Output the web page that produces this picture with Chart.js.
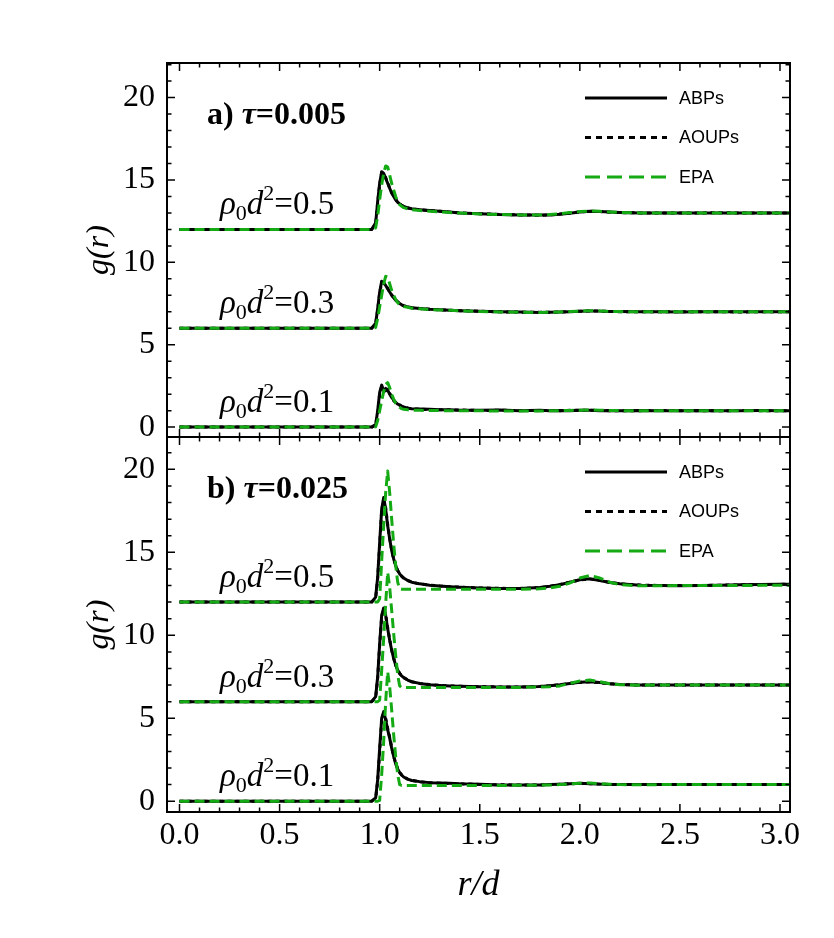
<!DOCTYPE html>
<html>
<head>
<meta charset="utf-8">
<script src="https://cdn.jsdelivr.net/npm/chart.js@4.4.0/dist/chart.umd.min.js"></script>
<style>
  html, body { margin: 0; padding: 0; background: #fff; }
  #wrap { position: relative; width: 834px; height: 938px; }
  .pane { position: absolute; left: 0; width: 834px; }
</style>
</head>
<body>
<div id="wrap">
  <div class="pane" style="top:0;height:440px"><canvas id="topChart"></canvas></div>
  <div class="pane" style="top:434px;height:504px"><canvas id="bottomChart"></canvas></div>
</div>
<script>
// r/d grid shared by all curves
const r = [0, 0.96, 0.98, 0.99, 1.0, 1.01, 1.02, 1.03, 1.04, 1.05,
  1.06, 1.07, 1.08, 1.09, 1.1, 1.11, 1.12, 1.14, 1.16, 1.2,
  1.25, 1.3, 1.35, 1.4, 1.5, 1.6, 1.7, 1.8, 1.85, 1.9,
  1.95, 2.0, 2.05, 2.1, 2.15, 2.2, 2.3, 2.4, 2.5, 2.6,
  2.7, 2.8, 2.9, 3.0, 3.05];

const xTicks = [0, 0.5, 1.0, 1.5, 2.0, 2.5, 3.0];
const yTicks = [0, 5, 10, 15, 20];
const rhoLabels = ["0.5", "0.3", "0.1"];
const rhoOffsets = [12, 6, 0];
const seriesNames = ["ABPs", "AOUPs", "EPA"];

// panel a) tau = 0.005  (curves shifted by 12, 6, 0)
const abpA5 = [12, 12, 12.4, 13.7, 14.8, 15.5, 15.4, 15.1, 14.8, 14.5,
  14.2, 14.0, 13.8, 13.65, 13.55, 13.45, 13.4, 13.3, 13.25, 13.2,
  13.15, 13.1, 13.05, 13.0, 12.95, 12.9, 12.88, 12.87, 12.88, 12.92,
  12.98, 13.05, 13.1, 13.08, 13.05, 13.03, 13.0, 12.99, 12.99, 13.0,
  13.0, 13.0, 13.0, 13.0, 13.0];
const aoupA5 = [12, 12, 12.35, 13.6, 14.7, 15.45, 15.4, 15.15, 14.85, 14.5,
  14.25, 14.0, 13.82, 13.66, 13.55, 13.46, 13.4, 13.31, 13.25, 13.19,
  13.14, 13.1, 13.04, 13.0, 12.95, 12.91, 12.88, 12.86, 12.88, 12.93,
  12.99, 13.06, 13.1, 13.08, 13.04, 13.02, 13.0, 13.0, 12.99, 13.0,
  13.01, 13.0, 13.0, 12.99, 13.0];
const epaA5 = [12, 12, 12.1, 12.8, 13.8, 14.7, 15.4, 15.85, 15.8, 15.3,
  14.8, 14.4, 14.0, 13.7, 13.5, 13.4, 13.32, 13.25, 13.2, 13.15,
  13.1, 13.06, 13.02, 12.99, 12.94, 12.9, 12.88, 12.88, 12.9, 12.95,
  13.02, 13.08, 13.12, 13.1, 13.06, 13.03, 13.0, 13.0, 13.0, 13.0,
  13.0, 13.0, 13.0, 13.0, 13.0];
const abpA3 = [6, 6, 6.3, 7.2, 8.2, 8.85, 8.75, 8.6, 8.4, 8.2,
  8.0, 7.85, 7.7, 7.6, 7.5, 7.42, 7.36, 7.3, 7.25, 7.2,
  7.15, 7.12, 7.1, 7.07, 7.03, 7.0, 6.98, 6.96, 6.97, 6.98,
  7.0, 7.03, 7.05, 7.04, 7.02, 7.01, 7.0, 7.0, 6.99, 7.0,
  7.0, 7.0, 7.0, 7.0, 7.0];
const aoupA3 = [6, 6, 6.25, 7.1, 8.1, 8.8, 8.75, 8.62, 8.42, 8.2,
  8.02, 7.85, 7.72, 7.6, 7.5, 7.43, 7.37, 7.3, 7.24, 7.2,
  7.16, 7.12, 7.09, 7.07, 7.03, 7.0, 6.98, 6.97, 6.97, 6.99,
  7.01, 7.03, 7.05, 7.04, 7.02, 7.0, 7.0, 7.0, 7.0, 7.0,
  7.0, 6.99, 7.0, 7.0, 7.0];
const epaA3 = [6, 6, 6.05, 6.6, 7.3, 8.0, 8.7, 9.15, 9.1, 8.7,
  8.3, 8.0, 7.75, 7.55, 7.45, 7.38, 7.32, 7.27, 7.22, 7.18,
  7.14, 7.11, 7.09, 7.06, 7.02, 6.99, 6.97, 6.96, 6.97, 6.99,
  7.01, 7.04, 7.06, 7.05, 7.02, 7.01, 7.0, 7.0, 7.0, 7.0,
  7.0, 7.0, 7.0, 7.0, 7.0];
const abpA1 = [0, 0, 0.15, 1.0, 2.1, 2.55, 2.2, 2.35, 2.25, 2.0,
  1.8, 1.65, 1.5, 1.4, 1.35, 1.25, 1.22, 1.15, 1.12, 1.1,
  1.08, 1.05, 1.06, 1.03, 1.02, 1.04, 1.0, 1.02, 0.99, 1.01,
  1.0, 1.03, 1.02, 1.0, 1.01, 0.99, 1.01, 1.0, 0.99, 1.01,
  1.0, 1.0, 1.01, 1.0, 1.0];
const aoupA1 = [0, 0, 0.12, 0.9, 2.0, 2.45, 2.3, 2.2, 2.3, 2.05,
  1.85, 1.6, 1.5, 1.42, 1.33, 1.27, 1.2, 1.16, 1.11, 1.09,
  1.07, 1.06, 1.04, 1.04, 1.01, 1.02, 1.01, 1.0, 1.01, 1.0,
  1.02, 1.02, 1.03, 1.01, 1.0, 1.0, 1.0, 1.01, 1.0, 1.0,
  0.99, 1.01, 1.0, 1.0, 1.0];
const epaA1 = [0, 0, 0.02, 0.4, 1.0, 1.6, 2.15, 2.6, 2.7, 2.4,
  2.0, 1.7, 1.45, 1.3, 1.2, 1.12, 1.08, 1.05, 1.03, 1.02,
  1.01, 1.0, 1.0, 0.99, 0.99, 0.98, 0.98, 0.98, 0.99, 1.0,
  1.01, 1.03, 1.04, 1.03, 1.01, 1.0, 1.0, 1.0, 1.0, 1.0,
  1.0, 1.0, 1.0, 1.0, 1.0];

// panel b) tau = 0.025
const abpB5 = [12, 12, 12.3, 13.5, 15.6, 17.6, 18.3, 17.6, 16.6, 15.8,
  15.1, 14.6, 14.2, 13.9, 13.7, 13.55, 13.45, 13.3, 13.2, 13.1,
  13.02, 12.97, 12.93, 12.9, 12.85, 12.82, 12.82, 12.88, 12.95, 13.05,
  13.2, 13.35, 13.4, 13.3, 13.18, 13.1, 13.02, 13.0, 12.99, 13.0,
  13.02, 13.04, 13.06, 13.08, 13.08];
const aoupB5 = [12, 12, 12.25, 13.4, 15.4, 17.5, 18.2, 17.7, 16.7, 15.85,
  15.15, 14.6, 14.25, 13.9, 13.72, 13.56, 13.45, 13.31, 13.2, 13.1,
  13.03, 12.97, 12.93, 12.9, 12.85, 12.83, 12.82, 12.87, 12.95, 13.06,
  13.2, 13.34, 13.4, 13.31, 13.18, 13.1, 13.03, 13.0, 13.0, 13.0,
  13.02, 13.04, 13.05, 13.07, 13.08];
const epaB5 = [12, 12, 12, 12, 12.2, 14.5, 16.6, 18.6, 19.9, 18.6,
  17.0, 15.5, 14.2, 13.2, 12.8, 12.78, 12.78, 12.78, 12.78, 12.78,
  12.78, 12.78, 12.78, 12.78, 12.78, 12.78, 12.78, 12.8, 12.85, 12.95,
  13.15, 13.45, 13.6, 13.45, 13.2, 13.05, 12.98, 12.98, 13.0, 13.0,
  13.0, 13.0, 13.01, 13.02, 13.02];
const abpB3 = [6, 6, 6.3, 7.5, 9.5, 11.2, 11.65, 11.2, 10.4, 9.7,
  9.1, 8.6, 8.2, 7.9, 7.7, 7.55, 7.45, 7.3, 7.2, 7.1,
  7.02, 6.98, 6.95, 6.93, 6.9, 6.88, 6.88, 6.92, 6.96, 7.02,
  7.1, 7.17, 7.2, 7.15, 7.08, 7.03, 7.0, 7.0, 7.0, 7.0,
  7.0, 7.0, 7.01, 7.0, 7.0];
const aoupB3 = [6, 6, 6.25, 7.4, 9.4, 11.1, 11.6, 11.25, 10.45, 9.75,
  9.1, 8.62, 8.2, 7.92, 7.7, 7.56, 7.45, 7.31, 7.2, 7.1,
  7.03, 6.98, 6.95, 6.93, 6.9, 6.89, 6.88, 6.91, 6.96, 7.02,
  7.1, 7.16, 7.2, 7.14, 7.08, 7.03, 7.0, 7.0, 7.0, 7.0,
  7.0, 7.0, 7.0, 7.0, 7.0];
const epaB3 = [6, 6, 6, 6, 6.1, 7.9, 9.8, 11.9, 13.8, 12.9,
  11.5, 10.1, 8.8, 7.6, 6.95, 6.85, 6.85, 6.85, 6.85, 6.85,
  6.85, 6.85, 6.85, 6.85, 6.85, 6.85, 6.86, 6.88, 6.9, 6.95,
  7.1, 7.25, 7.3, 7.2, 7.08, 7.02, 6.99, 7.0, 7.0, 7.0,
  7.0, 7.0, 7.0, 7.0, 7.0];
const abpB1 = [0, 0, 0.2, 1.3, 3.2, 5.0, 5.4, 4.9, 4.3, 3.8,
  3.2, 2.7, 2.25, 1.95, 1.72, 1.57, 1.46, 1.33, 1.25, 1.18,
  1.12, 1.1, 1.08, 1.05, 1.02, 0.98, 0.97, 0.98, 1.0, 1.02,
  1.05, 1.08, 1.06, 1.03, 1.01, 1.0, 1.0, 1.01, 1.0, 1.0,
  1.0, 1.01, 1.0, 1.0, 1.0];
const aoupB1 = [0, 0, 0.18, 1.2, 3.0, 4.9, 5.3, 5.0, 4.4, 3.85,
  3.25, 2.7, 2.3, 1.96, 1.74, 1.58, 1.47, 1.33, 1.26, 1.17,
  1.12, 1.09, 1.07, 1.05, 1.01, 0.99, 0.98, 0.98, 1.0, 1.02,
  1.05, 1.07, 1.06, 1.03, 1.01, 1.0, 1.01, 1.0, 1.0, 1.0,
  1.0, 1.0, 1.0, 1.01, 1.0];
const epaB1 = [0, 0, 0, 0, 0.05, 1.6, 3.6, 6.0, 7.8, 6.9,
  5.5, 4.0, 2.7, 1.6, 1.0, 0.95, 0.95, 0.95, 0.95, 0.95,
  0.95, 0.95, 0.95, 0.95, 0.95, 0.95, 0.96, 0.97, 0.98, 1.0,
  1.04, 1.08, 1.1, 1.06, 1.02, 1.0, 0.99, 1.0, 1.0, 1.0,
  1.0, 1.0, 1.0, 1.0, 1.0];

const GREEN = "rgb(20,170,20)";
const SERIF = '"Liberation Serif", "Times New Roman", serif';
const SANS = '"Liberation Sans", Arial, sans-serif';

// line look per series: [color, dash on curve, dash in legend, draw order]
const looks = {
  ABPs: ["#000", [], [], 2],
  AOUPs: ["#000", [4, 4], [6, 5], 1],
  EPA: [GREEN, [10, 5], [15, 7], 0]
};

function makeSets(groups) {
  const out = [];
  groups.forEach(g => {
    seriesNames.forEach((name, k) => {
      const [color, dash, , order] = looks[name];
      out.push({
        label: name,
        data: r.map((x, i) => ({ x: x, y: g[k][i] })),
        borderColor: color,
        borderWidth: 3,
        borderDash: dash,
        borderJoinStyle: "round",
        pointRadius: 0,
        tension: 0,
        fill: false,
        order: order
      });
    });
  });
  return out;
}

function runs(ctx, x, y, parts) {
  parts.forEach(([txt, font, dy]) => {
    ctx.font = font;
    ctx.fillText(txt, x, y + (dy || 0));
    x += ctx.measureText(txt).width;
  });
}

// frame, inward ticks, panel label, density labels, legend
const deco = {
  id: "deco",
  afterDraw(chart, args, opts) {
    const { ctx, chartArea: a, scales: { x, y } } = chart;
    ctx.save();
    ctx.strokeStyle = "#000";
    ctx.lineWidth = 1.5;
    ctx.beginPath();
    for (let k = 0; k <= 30; k++) {
      const px = x.getPixelForValue(k / 10);
      const len = k % 5 === 0 ? 8 : 4.5;
      ctx.moveTo(px, a.top); ctx.lineTo(px, a.top + len);
      ctx.moveTo(px, a.bottom); ctx.lineTo(px, a.bottom - len);
    }
    for (let k = 0; k <= 22; k++) {
      const py = y.getPixelForValue(k);
      if (py < a.top) continue;
      const len = k % 5 === 0 ? 8 : 4.5;
      ctx.moveTo(a.left, py); ctx.lineTo(a.left + len, py);
      ctx.moveTo(a.right, py); ctx.lineTo(a.right - len, py);
    }
    ctx.stroke();
    ctx.lineWidth = 2;
    ctx.strokeRect(a.left, a.top, a.right - a.left, a.bottom - a.top);

    ctx.fillStyle = "#000";
    ctx.textBaseline = "alphabetic";
    ctx.textAlign = "left";
    runs(ctx, 207, a.top + 61, [
      [opts.tag + " ", "bold 32px " + SERIF],
      ["\u03c4", "italic bold 32px " + SERIF, 0],
      ["=" + opts.tau, "bold 32px " + SERIF]
    ]);

    rhoLabels.forEach((lab, i) => {
      const base = y.getPixelForValue(rhoOffsets[i]) - 15;
      runs(ctx, 220, base, [
        ["\u03c1", "italic 33px " + SERIF],
        ["0", "22px " + SERIF, 6],
        ["d", "italic 33px " + SERIF],
        ["2", "22px " + SERIF, -14],
        ["=" + lab, "33px " + SERIF]
      ]);
    });

    ctx.lineWidth = 3;
    ctx.font = "18px " + SANS;
    ctx.textBaseline = "middle";
    seriesNames.forEach((name, i) => {
      const [color, , dash] = looks[name];
      const ly = a.top + 35 + i * 39.5;
      ctx.strokeStyle = color;
      ctx.setLineDash(dash);
      ctx.beginPath();
      ctx.moveTo(585, ly); ctx.lineTo(667, ly);
      ctx.stroke();
      ctx.fillText(name, 679, ly + 1);
    });
    ctx.restore();
  }
};

function makeChart(id, groups, panel) {
  new Chart(document.getElementById(id), {
    type: "line",
    data: { datasets: makeSets(groups) },
    plugins: [deco],
    options: {
      responsive: true,
      maintainAspectRatio: false,
      animation: false,
      layout: { padding: panel.padding, autoPadding: false },
      plugins: {
        legend: { display: false },
        tooltip: { enabled: false },
        deco: { tag: panel.tag, tau: panel.tau }
      },
      scales: {
        x: {
          type: "linear",
          min: -0.0625,
          max: 3.05,
          display: panel.showX,
          afterBuildTicks: s => { s.ticks = xTicks.map(v => ({ value: v })); },
          afterFit: s => { s.height = panel.showX ? 126 : 0; s.paddingLeft = 0; s.paddingRight = 0; },
          grid: { display: false, drawTicks: false },
          border: { display: false },
          ticks: {
            padding: 4, color: "#000", autoSkip: false, maxRotation: 0,
            font: { family: SERIF, size: 32 },
            callback: v => v.toFixed(1)
          },
          title: {
            display: true, text: "r/d", color: "#000",
            font: { family: SERIF, size: 36, style: "italic" },
            padding: { top: 0, bottom: 31 }
          }
        },
        y: {
          type: "linear",
          min: panel.yMin,
          max: panel.yMax,
          afterBuildTicks: s => { s.ticks = yTicks.map(v => ({ value: v })); },
          afterFit: s => { s.width = 167; s.paddingTop = 0; s.paddingBottom = 0; },
          grid: { display: false, drawTicks: false },
          border: { display: false },
          ticks: {
            padding: 12, color: "#000", autoSkip: false,
            font: { family: SERIF, size: 32 },
            callback: v => String(v)
          },
          title: {
            display: true, text: "g(r)", color: "#000",
            font: { family: SERIF, size: 32, style: "italic" },
            padding: { top: 80, bottom: 0 }
          }
        }
      }
    }
  });
}

makeChart("topChart",
  [[abpA5, aoupA5, epaA5], [abpA3, aoupA3, epaA3], [abpA1, aoupA1, epaA1]],
  { tag: "a)", tau: "0.005", showX: false, yMin: -0.6, yMax: 22.1,
    padding: { top: 63, right: 44, bottom: 3, left: 0 } });

makeChart("bottomChart",
  [[abpB5, aoupB5, epaB5], [abpB3, aoupB3, epaB3], [abpB1, aoupB1, epaB1]],
  { tag: "b)", tau: "0.025", showX: true, yMin: -0.65, yMax: 21.95,
    padding: { top: 3, right: 44, bottom: 0, left: 0 } });
</script>
</body>
</html>
